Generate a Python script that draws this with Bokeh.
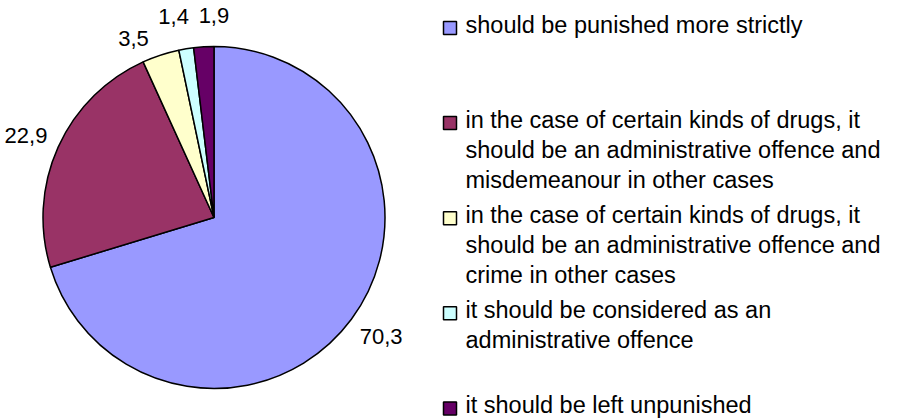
import math
from bokeh.plotting import figure
from bokeh.models import Range1d, ColumnDataSource
from bokeh.embed import file_html
from bokeh.resources import INLINE
from bokeh.core.properties import value

# ---------------- data ----------------
categories = [
    "should be punished more strictly",
    "in the case of certain kinds of drugs, it\nshould be an administrative offence and\nmisdemeanour in other cases",
    "in the case of certain kinds of drugs, it\nshould be an administrative offence and\ncrime in other cases",
    "it should be considered as an\nadministrative offence",
    "it should be left unpunished",
]
values = [70.3, 22.9, 3.5, 1.4, 1.9]
value_labels = ["70,3", "22,9", "3,5", "1,4", "1,9"]
colors = ["#9999FF", "#993366", "#FFFFCC", "#CCFFFF", "#660066"]

# ---------------- layout ----------------
W, H = 902, 419
IMG_H = 419
cx, cy = 213.5, IMG_H - 217.0
R = 171.0
label_shift_deg = [-1.1, -0.7, -6.0, -2.0, 3.4]
label_r_factor = [1.2, 1.2, 1.15, 1.2, 1.18]
FONT = "Liberation Sans"

p = figure(width=W, height=H, output_backend="svg", toolbar_location=None,
           x_range=Range1d(0, W), y_range=Range1d(0, H),
           x_axis_type=None, y_axis_type=None, min_border=0)
p.grid.visible = False
p.outline_line_color = None
p.background_fill_color = "white"
p.border_fill_color = "white"

total = sum(values)
starts, ends, mids = [], [], []
cum = 0.0
for v in values:
    a0 = math.pi / 2 - 2 * math.pi * cum / total
    cum += v
    a1 = math.pi / 2 - 2 * math.pi * cum / total
    starts.append(a0)
    ends.append(a1)
    mids.append((a0 + a1) / 2)

src = ColumnDataSource(dict(x=[cx] * len(values), y=[cy] * len(values),
                            start=starts, end=ends, color=colors))
p.wedge(x="x", y="y", radius=R, start_angle="start", end_angle="end",
        direction="clock", fill_color="color", line_color="black",
        line_width=1.5, source=src)

# value labels
lx, ly = [], []
for i, m in enumerate(mids):
    a = m - math.radians(label_shift_deg[i])
    rr = R * label_r_factor[i]
    lx.append(cx + rr * math.cos(a))
    ly.append(cy + rr * math.sin(a))
p.text(x=lx, y=ly, text=value_labels, text_font=value(FONT),
       text_font_size="22px", text_align="center", text_baseline="middle",
       text_color="black")

# legend
row0 = IMG_H - 27.5
row_step = 95.1
line_step = 30
text_lift = 3
sq_x = 449.5
txt_x = 465
sx, sy, tx, ty, tt = [], [], [], [], []
for i, cat in enumerate(categories):
    ry = row0 - i * row_step
    sx.append(sq_x)
    sy.append(ry)
    for j, line in enumerate(cat.split("\n")):
        tx.append(txt_x)
        ty.append(ry - j * line_step + text_lift)
        tt.append(line)
p.rect(x=sx, y=sy, width=13, height=13, fill_color=colors,
       line_color="black", line_width=1.5)
p.text(x=tx, y=ty, text=tt, text_font=value(FONT), text_font_size="23.5px",
       text_align="left", text_baseline="middle", text_color="black")

open("out.html", "w").write(file_html(p, INLINE))
